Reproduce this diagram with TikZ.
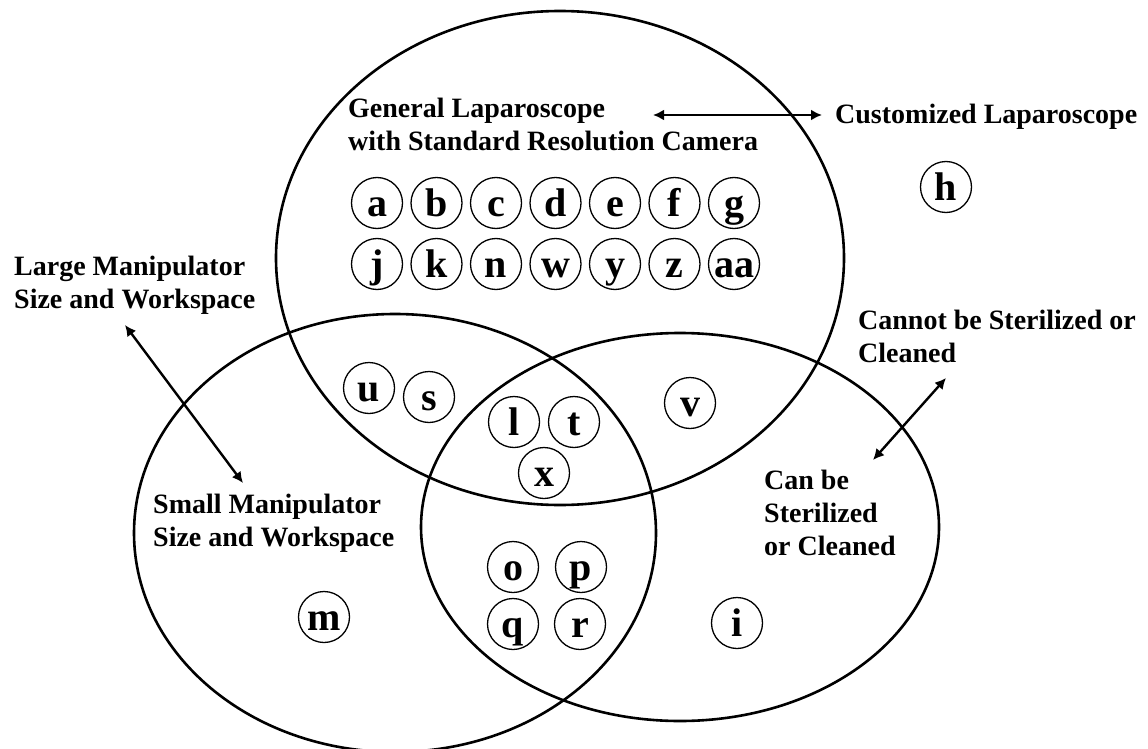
\documentclass[tikz,border=0pt]{standalone}
\usepackage{fontspec}
\setmainfont{Liberation Serif}
\usetikzlibrary{arrows.meta}

\begin{document}
\begin{tikzpicture}[x=1pt,y=-1pt,
  set/.style={line width=2.6pt},
  item/.style={circle, draw, line width=1.3pt, minimum size=51pt, inner sep=0pt,
    text height=26pt, text depth=0pt, font=\fontsize{40}{40}\selectfont\bfseries},
  lbl/.style={align=left, anchor=west, inner sep=0pt,
    font=\fontsize{28}{33}\selectfont\bfseries},
  link/.style={line width=2.4pt, {Latex[length=11pt,width=11pt]}-{Latex[length=11pt,width=11pt]}}]
  \useasboundingbox (0,0) rectangle (1148,749);
  % the three sets
  \draw[set] (560,258) ellipse [x radius=284, y radius=247];
  \draw[set] (395,533) ellipse [x radius=261, y radius=219];
  \draw[set] (680,527) ellipse [x radius=259, y radius=194];
  % items
  \foreach \t [count=\i from 0] in {a,b,c,d,e,f,g}
    \node[item] (\t) at (377+\i*59.5,203) {\t};
  \foreach \t [count=\i from 0] in {j,k,n,w,y,z,aa}
    \node[item] (\t) at (377+\i*59.5,264) {\t};
  \node[item] (h) at (946,187) {h};
  \node[item] (u) at (369,388) {u};
  \node[item] (s) at (429,397) {s};
  \node[item] (l) at (514,422) {l};
  \node[item] (t) at (574,422) {t};
  \node[item] (x) at (544,473) {x};
  \node[item] (v) at (690,403) {v};
  \node[item] (o) at (513,567) {o};
  \node[item] (p) at (581,567) {p};
  \node[item] (q) at (513,624) {q};
  \node[item] (r) at (580,624) {r};
  \node[item] (i) at (737,623) {i};
  \node[item] (m) at (324,617) {m};
  % labels
  \node[lbl] (gen) at (348,124) {General Laparoscope\\with Standard Resolution Camera};
  \node[lbl] (cust) at (835,117) {Customized Laparoscope};
  \node[lbl] (large) at (14,285) {Large Manipulator\\Size and Workspace};
  \node[lbl] (small) at (153,523) {Small Manipulator\\Size and Workspace};
  \node[lbl] (cannot) at (858,336) {Cannot be Sterilized or\\Cleaned};
  \node[lbl] (canbe) at (764,513) {Can be\\Sterilized\\or Cleaned};
  % arrows
  \coordinate (genR) at (653,115);
  \coordinate (custL) at (822,115);
  \coordinate (largeB) at (125,325);
  \coordinate (smallT) at (243,483);
  \coordinate (cannotB) at (946,378);
  \coordinate (canbeT) at (873,460);
  \draw[link] (genR) -- (custL);
  \draw[link] (largeB) -- (smallT);
  \draw[link] (cannotB) -- (canbeT);
\end{tikzpicture}
\end{document}
